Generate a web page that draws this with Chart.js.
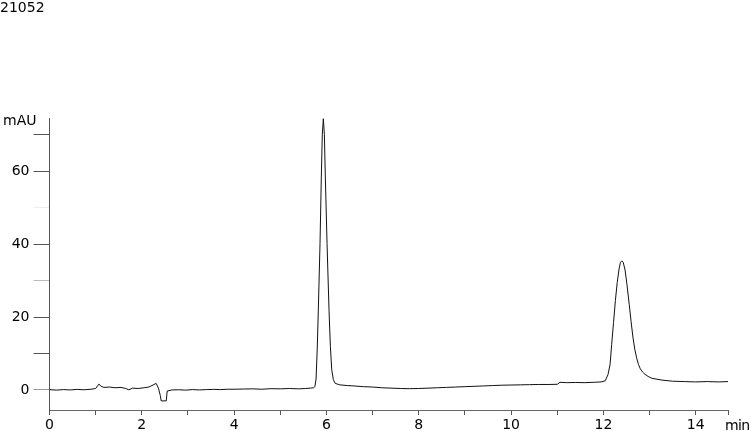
<!DOCTYPE html>
<html>
<head>
<meta charset="utf-8">
<script src="https://cdn.jsdelivr.net/npm/chart.js@4/dist/chart.umd.min.js"></script>
<style>
    body{margin:0;background:#fff;}
    #wrap{position:relative;width:750px;height:431px;overflow:hidden;}
    .lbl{position:absolute;font-family:"DejaVu Sans",sans-serif;font-size:14px;line-height:14px;color:#000;white-space:nowrap;}
</style>
</head>
<body>
<div id="wrap">
    <canvas id="chromChart"></canvas>
    <div class="lbl" style="left:0px;top:0px;">21052</div>
    <div class="lbl" style="left:3px;top:113px;">mAU</div>
    <div class="lbl" style="left:725px;top:418px;letter-spacing:-0.7px;">min</div>
</div>
<script>
// retention time (min) and absorbance (mAU)
let times = [
    0.00, 0.15, 0.30, 0.45, 0.60, 0.75, 0.90, 1.00, 1.07, 1.12,
    1.18, 1.30, 1.42, 1.55, 1.65, 1.72, 1.80, 1.92, 2.05, 2.15,
    2.22, 2.31, 2.36, 2.40, 2.42, 2.53, 2.55, 2.65, 2.80, 2.95,
    3.10, 3.25, 3.40, 3.55, 3.70, 3.85, 4.00, 4.20, 4.40, 4.60,
    4.80, 5.00, 5.20, 5.40, 5.55, 5.65, 5.72, 5.75, 5.775, 5.80,
    5.824, 5.861, 5.889, 5.91, 5.933, 5.955, 5.976, 6.013, 6.056, 6.085,
    6.115, 6.15, 6.19, 6.29, 6.45, 6.60, 6.80, 7.00, 7.20, 7.40,
    7.60, 7.80, 8.00, 8.20, 8.40, 8.60, 8.80, 9.00, 9.20, 9.40,
    9.60, 9.80, 10.00, 10.20, 10.40, 10.60, 10.80, 11.00, 11.06, 11.20,
    11.40, 11.60, 11.80, 11.95, 12.04, 12.10, 12.145, 12.18, 12.22, 12.26,
    12.30, 12.34, 12.37, 12.40, 12.43, 12.47, 12.51, 12.56, 12.60, 12.64,
    12.68, 12.72, 12.76, 12.80, 12.85, 12.90, 12.97, 13.05, 13.27, 13.50,
    13.75, 14.00, 14.25, 14.50, 14.70
];
let mau = [
    0.1, -0.05, 0.1, 0.0, 0.15, 0.05, 0.2, 0.4, 1.6, 1.0,
    0.7, 0.8, 0.6, 0.7, 0.4, 0.05, 0.5, 0.4, 0.6, 0.8,
    1.2, 1.8, 0.5, -1.5, -3.0, -3.0, -0.3, 0.0, 0.05, -0.05,
    0.1, 0.0, 0.1, 0.15, 0.1, 0.2, 0.2, 0.25, 0.3, 0.2,
    0.35, 0.3, 0.4, 0.3, 0.4, 0.5, 0.6, 0.9, 3.0, 11.0,
    21.9, 40.2, 58.4, 70.0, 74.4, 70.0, 58.4, 40.2, 21.9, 12.0,
    5.5, 2.8, 1.8, 1.4, 1.2, 1.1, 0.9, 0.8, 0.6, 0.5,
    0.4, 0.35, 0.4, 0.5, 0.6, 0.7, 0.8, 0.9, 1.0, 1.1,
    1.2, 1.3, 1.35, 1.4, 1.45, 1.5, 1.5, 1.55, 2.1, 2.0,
    2.05, 2.0, 2.1, 2.2, 2.5, 4.2, 7.0, 12.5, 18.5, 24.5,
    29.5, 33.2, 35.0, 35.4, 35.0, 32.9, 29.0, 23.5, 18.8, 14.5,
    11.2, 8.8, 7.0, 5.8, 4.9, 4.3, 3.7, 3.2, 2.7, 2.4,
    2.3, 2.2, 2.3, 2.2, 2.3
];
let xTicks = [0, 1, 2, 3, 4, 5, 6, 7, 8, 9, 10, 11, 12, 13, 14, 14.7];
let yTicks = [0, 10, 20, 30, 40, 50, 60, 70];

let points = [];
for(let i=0; i<times.length; i++){
    points.push({x: times[i], y: mau[i]});
}

// tick shades as they come out in the picture
function yTickColor(ctx){
    let v = ctx.tick ? ctx.tick.value : 0;
    if(v==50) return "#eeeeee";
    if(v==30) return "#bbbbbb";
    if(v==0) return "#999999";
    return "#555555";
}

let tickFont = {family: "DejaVu Sans", size: 14};

new Chart("chromChart", {
    type: "line",
    data: {
        datasets: [{
            data: points,
            borderColor: "#111111",
            borderWidth: 1,
            pointRadius: 0,
            fill: false,
            tension: 0
        }]
    },
    options: {
        responsive: true,
        maintainAspectRatio: false,
        animation: false,
        layout: {padding: {top: 118, right: 22, left: 0, bottom: 0}},
        plugins: {legend: {display: false}, tooltip: {enabled: false}},
        scales: {
            x: {
                type: "linear",
                min: 0,
                max: 14.7,
                afterBuildTicks: (scale) => { scale.ticks = xTicks.map(v => ({value: v})); },
                afterFit: (scale) => { scale.height = 21; },
                grid: {drawOnChartArea: false, drawTicks: true, tickLength: 5, color: "#555555"},
                border: {display: true, color: "#666666"},
                ticks: {
                    color: "#000",
                    font: tickFont,
                    padding: 2,
                    maxRotation: 0,
                    autoSkip: false,
                    callback: (v) => (Number.isInteger(v) && v % 2 == 0) ? v : ""
                }
            },
            y: {
                min: -5.5,
                max: 74.6,
                afterBuildTicks: (scale) => { scale.ticks = yTicks.map(v => ({value: v})); },
                afterFit: (scale) => { scale.width = 49.5; },
                grid: {drawOnChartArea: false, drawTicks: true, tickLength: 16, color: yTickColor},
                border: {display: true, color: "#555555"},
                ticks: {
                    color: "#000",
                    font: tickFont,
                    padding: 4,
                    autoSkip: false,
                    callback: (v) => v % 20 == 0 ? v : ""
                }
            }
        }
    }
});
</script>
</body>
</html>
